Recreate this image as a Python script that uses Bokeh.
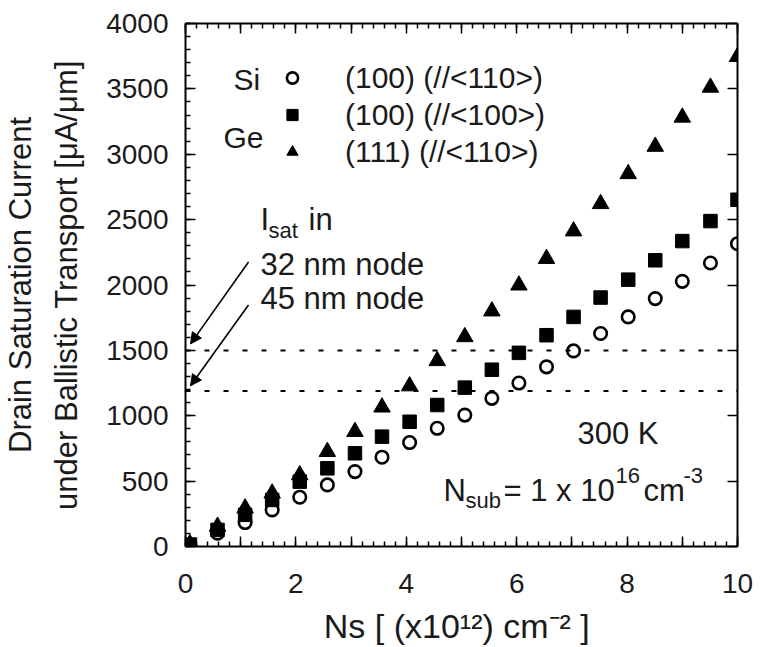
import numpy as np
from bokeh.plotting import figure
from bokeh.models import (Range1d, LinearAxis, SingleIntervalTicker, Label, Span,
                          Arrow, NormalHead, Legend, LegendItem)
from bokeh.embed import file_html
from bokeh.resources import INLINE

# ---------------- data ----------------
ns = [0.08, 0.58, 1.08, 1.57, 2.07, 2.57, 3.07, 3.56, 4.06, 4.56, 5.06,
      5.55, 6.04, 6.54, 7.03, 7.52, 8.02, 8.51, 9.0, 9.51, 10.0]
si_100_110 = [10, 102, 183, 280, 377, 471, 573, 683, 795, 904, 1005,
              1133, 1250, 1374, 1496, 1629, 1756, 1896, 2028, 2168, 2316]
ge_100_100 = [15, 127, 242, 356, 496, 598, 713, 840, 954, 1082, 1215,
              1352, 1481, 1616, 1756, 1904, 2041, 2189, 2336, 2489, 2652]
ge_111_110 = [20, 153, 293, 407, 547, 725, 878, 1065, 1227, 1420, 1603,
              1800, 1998, 2201, 2412, 2621, 2850, 3059, 3282, 3511, 3746]
isat_levels = [1500, 1190]          # 32 nm node, 45 nm node
series_labels = ["(100) (//<110>)", "(100) (//<100>)", "(111) (//<110>)"]
x_odd_ticks = [1, 3, 5, 7, 9]
x_title = "Ns  [ (x10\u00b9\u00b2) cm\u207b\u00b2 ]"
y_title = "Drain Saturation Current\nunder Ballistic Transport [μA/μm]"

FONT = "Liberation Sans"
TXT = "#1a1a1a"

W, H = 760, 647
L, R, T, B = 185, 23, 23, 100
FX0, FX1, FY0, FY1 = L, W - R, T, H - B
XMIN, XMAX, YMIN, YMAX = 0, 10, 0, 4000
SHIFT = -11   # empirical correction of the label baseline


def dx(px):
    return XMIN + (px - FX0) / (FX1 - FX0) * (XMAX - XMIN)


def dy(py):
    return YMIN + (FY1 - py) / (FY1 - FY0) * (YMAX - YMIN)


p = figure(width=W, height=H, output_backend="svg", toolbar_location=None,
           x_range=Range1d(XMIN, XMAX), y_range=Range1d(YMIN, YMAX),
           min_border_left=L, min_border_right=R, min_border_top=T,
           min_border_bottom=B, x_axis_location=None, y_axis_location=None)
p.grid.visible = False
p.outline_line_color = None
p.background_fill_color = "white"
p.border_fill_color = "white"


def style_axis(ax, labels=True):
    ax.axis_line_color = "black"
    ax.axis_line_width = 2
    ax.major_tick_line_color = "black"
    ax.minor_tick_line_color = "black"
    ax.major_tick_line_width = 1.5
    ax.minor_tick_line_width = 1.5
    ax.major_tick_in = 10
    ax.major_tick_out = 0
    ax.minor_tick_in = 5
    ax.minor_tick_out = 0
    if labels:
        ax.major_label_text_font = FONT
        ax.major_label_text_font_size = "28px"
        ax.major_label_text_color = TXT
    else:
        ax.major_label_text_font_size = "0px"
        ax.major_label_text_alpha = 0


xb = LinearAxis(ticker=SingleIntervalTicker(interval=1, num_minor_ticks=5))
style_axis(xb)
xb.major_label_standoff = 27
xb.major_label_overrides = {v: "" for v in x_odd_ticks}
xb.axis_label = x_title
xb.axis_label_text_font = FONT
xb.axis_label_text_font_size = "34px"
xb.axis_label_text_font_style = "normal"
xb.axis_label_text_color = TXT
xb.axis_label_standoff = 11
p.add_layout(xb, "below")

xt = LinearAxis(ticker=SingleIntervalTicker(interval=1, num_minor_ticks=5))
style_axis(xt, labels=False)
xt.major_label_standoff = 0
p.add_layout(xt, "above")

yl = LinearAxis(ticker=SingleIntervalTicker(interval=500, num_minor_ticks=5))
style_axis(yl)
yl.major_label_standoff = 17
yl.axis_label = y_title
yl.axis_label_text_font = FONT
yl.axis_label_text_font_size = "31px"
yl.axis_label_text_font_style = "normal"
yl.axis_label_text_color = TXT
yl.axis_label_text_line_height = 1.32
yl.axis_label_standoff = 19
p.add_layout(yl, "left")

yr = LinearAxis(ticker=SingleIntervalTicker(interval=500, num_minor_ticks=5))
style_axis(yr, labels=False)
yr.minor_tick_in = 0
yr.major_label_standoff = 0
p.add_layout(yr, "right")

# reference levels
for lvl in isat_levels:
    p.add_layout(Span(location=lvl, dimension="width", line_color="black",
                      line_width=2, line_dash="5 14"))

# data
r_si = p.scatter(ns, si_100_110, marker="circle", size=12.5, fill_color="white",
                 fill_alpha=0, line_color="black", line_width=2.6)
r_sq = p.scatter(ns, ge_100_100, marker="square", size=13.5, fill_color="black",
                 line_color="black", line_width=1)
r_tr = p.scatter(ns, ge_111_110, marker="triangle", size=16.5, fill_color="black",
                 line_color="black", line_width=1)

legend = Legend(items=[LegendItem(label=series_labels[0], renderers=[r_si]),
                       LegendItem(label=series_labels[1], renderers=[r_sq]),
                       LegendItem(label=series_labels[2], renderers=[r_tr])],
                location=(278 - FX0, FY1 - 171), padding=0, margin=0,
                spacing=0, glyph_width=28, glyph_height=37, label_height=37,
                label_standoff=39, border_line_color=None,
                background_fill_alpha=0, label_text_font=FONT,
                label_text_font_size="30px", label_text_color=TXT)
p.add_layout(legend, "center")


def txt(text, px, py, size, align="left", angle=0.0):
    p.add_layout(Label(x=dx(px), y=dy(py + SHIFT), text=text, text_font=FONT,
                       text_font_size=f"{size}px", text_color=TXT,
                       text_align=align, text_baseline="alphabetic",
                       angle=angle))


# legend species names
txt("Si", 233, 90, 30)
txt("Ge", 223, 148, 30)

# Isat annotation
txt("I", 260, 230, 31)
txt("sat", 268, 241, 22)
txt("in", 308, 230, 31)
txt("32 nm node", 260, 275, 31)
txt("45 nm node", 260, 310, 31)

for (x0, y0, x1, y1) in [(248, 262, 190, 344), (248, 305, 190, 386)]:
    p.add_layout(Arrow(x_start=dx(x0), y_start=dy(y0), x_end=dx(x1), y_end=dy(y1),
                       line_color="black", line_width=1.6,
                       end=NormalHead(size=11, fill_color="black",
                                      line_color="black", line_width=1)))

# conditions
txt("300 K", 577, 445, 31)
txt("N", 443, 502, 31)
txt("sub", 465, 512, 22)
txt("= 1 x 10", 503, 502, 31)
txt("16", 615, 487, 22)
txt("cm", 643, 502, 31)
txt("-3", 683, 487, 22)

open("out.html", "w").write(file_html(p, INLINE))
